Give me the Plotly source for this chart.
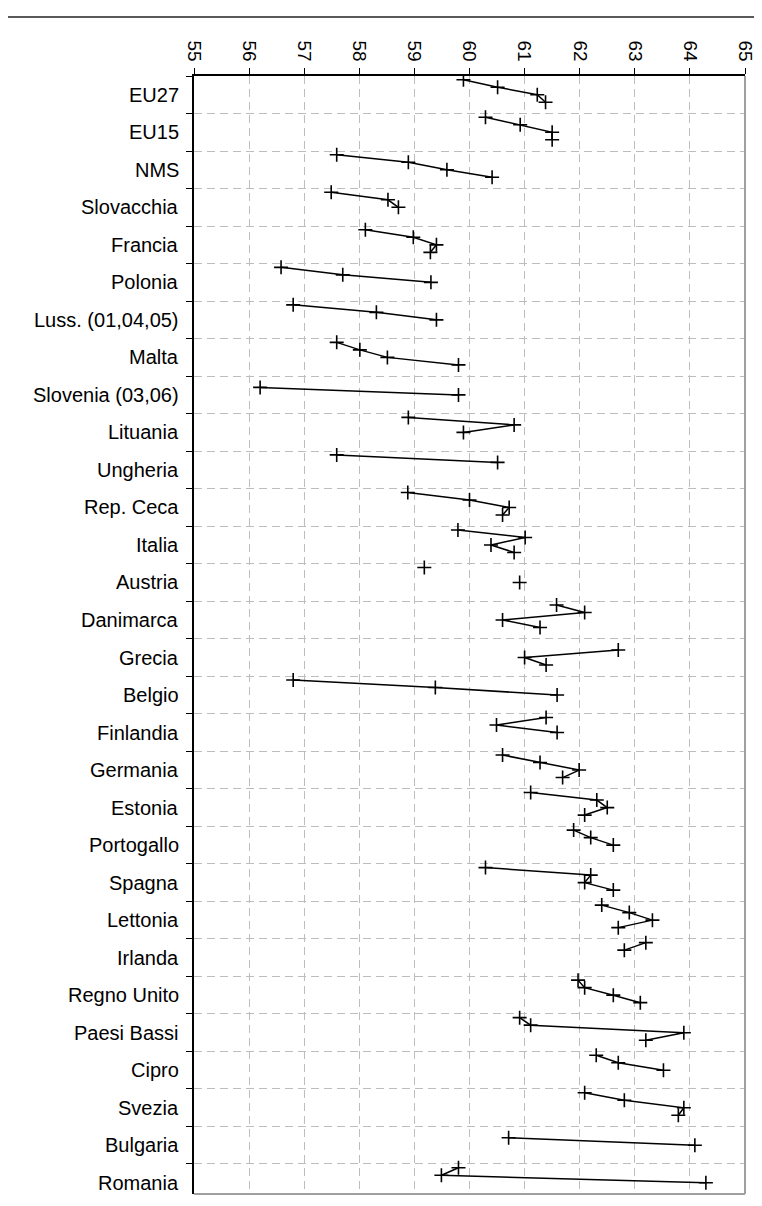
import plotly.graph_objects as go

countries = ["EU27", "EU15", "NMS", "Slovacchia", "Francia", "Polonia", "Luss. (01,04,05)",
             "Malta", "Slovenia (03,06)", "Lituania", "Ungheria", "Rep. Ceca", "Italia",
             "Austria", "Danimarca", "Grecia", "Belgio", "Finlandia", "Germania", "Estonia",
             "Portogallo", "Spagna", "Lettonia", "Irlanda", "Regno Unito", "Paesi Bassi",
             "Cipro", "Svezia", "Bulgaria", "Romania"]

# values by year slot (None = missing)
year1 = [59.89, 60.29, 57.59, 57.49, 58.11, 56.58, 56.80, 57.59, None, 58.89, 57.59, 58.88, 59.79,
         59.18, 61.58, None, 56.80, 61.39, 60.60, 61.11, 61.89, 60.29, 62.40, 63.20, 61.97, 60.91,
         62.30, 62.09, None, 59.80]
year2 = [60.51, 60.92, 58.89, 58.52, 58.98, 57.70, 58.31, 58.01, 56.20, 60.81, 60.51, 60.00, 61.01,
         None, 62.09, 62.70, 59.38, 60.49, 61.28, 62.31, 62.20, 62.20, 62.90, 62.81, 62.09, 61.11,
         62.70, 62.81, 60.71, 59.49]
year3 = [61.23, 61.50, 59.59, 58.71, 59.40, 59.30, 59.40, 58.51, 59.80, 59.89, None, 60.72, 60.39,
         60.91, 60.60, 61.00, 61.59, 61.59, 61.99, 62.50, 62.61, 62.09, 63.32, None, 62.61, 63.89,
         63.52, 63.89, 64.09, 64.29]
year4 = [61.38, 61.50, 60.41, None, 59.29, None, None, 59.80, None, None, None, 60.60, 60.81,
         None, 61.28, 61.39, None, None, 61.69, 62.09, None, 62.61, 62.70, None, 63.10, 63.20,
         None, 63.79, None, None]

x_ticks = list(range(55, 66))

slots = [year1, year2, year3, year4]
slot_offsets = [0.1, 0.3, 0.5, 0.7]

fig = go.Figure()
for i, name in enumerate(countries):
    xs = [s[i] for s in slots]
    ys = [i + o for o in slot_offsets]
    fig.add_trace(go.Scatter(
        x=xs, y=ys, mode="lines+markers", connectgaps=False,
        line=dict(color="black", width=1.5),
        marker=dict(symbol="cross-thin", size=10, line=dict(color="black", width=1.6)),
        showlegend=False, name=name, hoverinfo="x+name"))

FONT = "Arial, Liberation Sans, sans-serif"

annotations = []
for i, name in enumerate(countries):
    annotations.append(dict(
        x=0, xref="paper", y=i + 0.5, yref="y", text=name, showarrow=False,
        xanchor="right", yanchor="middle", xshift=-13,
        font=dict(family=FONT, size=20, color="black")))

L, R, T, B = 186, 737, 68, 1186
W, H = 762, 1206
def px(xp):
    return (xp - L) / (R - L)
def py(yp):
    return (B - yp) / (B - T)

shapes = [
    # plot area right and bottom border (gray)
    dict(type="line", xref="paper", yref="paper", x0=1, x1=1, y0=0, y1=1,
         line=dict(color="#a0a0a0", width=2)),
    dict(type="line", xref="paper", yref="paper", x0=0, x1=1, y0=0, y1=0,
         line=dict(color="#a0a0a0", width=2)),
    # outer chart frame (top and right)
    dict(type="line", xref="paper", yref="paper", x0=px(-2), x1=px(755), y0=py(9), y1=py(9),
         line=dict(color="#222222", width=1.5)),
    dict(type="line", xref="paper", yref="paper", x0=px(755), x1=px(755), y0=py(9), y1=py(1210),
         line=dict(color="#222222", width=1.5)),
]

fig.update_layout(
    width=W, height=H,
    margin=dict(l=L, r=W - R, t=T, b=H - B),
    paper_bgcolor="white", plot_bgcolor="white",
    font=dict(family=FONT, size=19, color="black"),
    annotations=annotations, shapes=shapes,
    xaxis=dict(side="top", range=[55, 65], tickvals=x_ticks, ticktext=[str(v) for v in x_ticks],
               tickangle=90, ticks="outside", ticklen=6, tickcolor="black",
               showline=True, linecolor="black", linewidth=1.5,
               showgrid=True, gridcolor="#bdbdbd", gridwidth=1, griddash="8px,5px",
               zeroline=False, tickfont=dict(family=FONT, size=19, color="black")),
    yaxis=dict(range=[29.8, 0], tickvals=list(range(0, 30)), showticklabels=False,
               ticks="outside", ticklen=6, tickcolor="black",
               showline=True, linecolor="black", linewidth=1.5,
               showgrid=True, gridcolor="#bdbdbd", gridwidth=1, griddash="8px,5px",
               zeroline=False),
)

fig.write_html("out.html")
